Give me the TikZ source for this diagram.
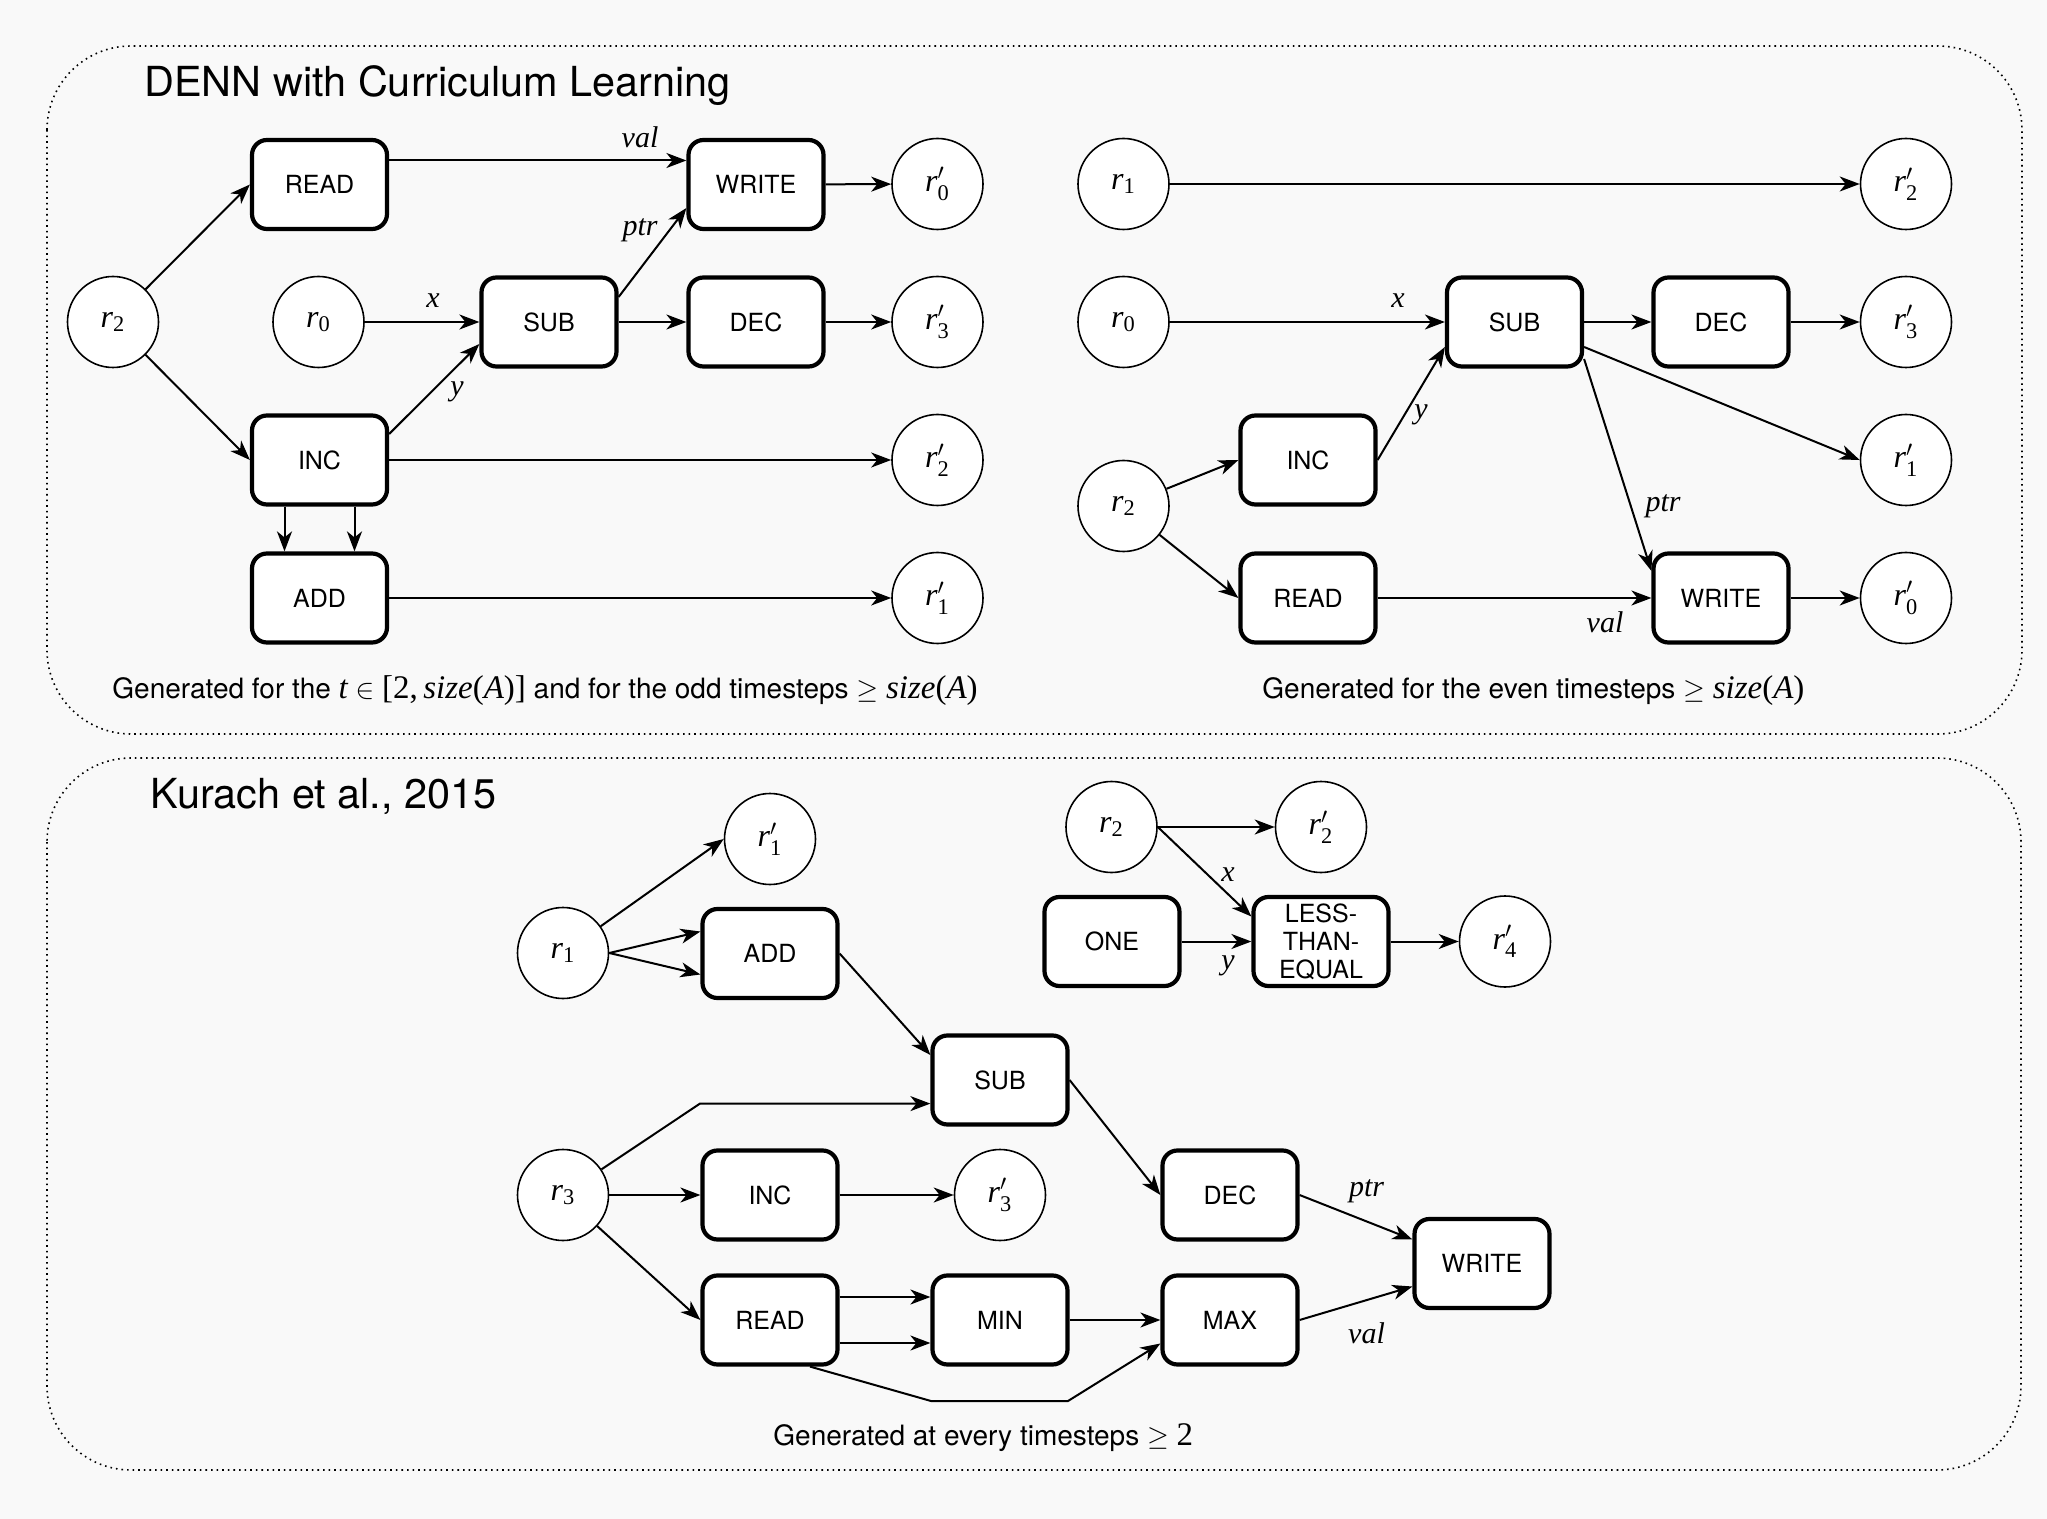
\RequirePackage{fix-cm}
\documentclass[tikz,border=0pt]{standalone}
\usepackage{amsmath}
\usepackage{fontspec}
\setmainfont{TeX Gyre Heros}
\newfontfamily\tms{Liberation Serif}
\usetikzlibrary{arrows.meta,calc}
\definecolor{bgc}{RGB}{249,249,249}
\newcommand{\rg}[1]{$\text{\tms\itshape r}_{\text{\tms #1}}$}
\newcommand{\rgp}[1]{$\text{\tms\itshape r}'_{\text{\tms #1}}$}
\newcommand{\mt}[1]{{\tms\fontsize{16.5}{18}\selectfont #1}}
\begin{document}
\begin{tikzpicture}[x=0.5pt,y=-0.5pt,
  box/.style={draw, line width=2.1pt, rounded corners=7.5pt, fill=white, minimum width=67.5pt, minimum height=44.5pt, inner sep=0pt, font=\fontsize{12.5}{14}\selectfont},
  reg/.style={draw, circle, line width=0.8pt, fill=white, minimum size=45.5pt, inner sep=0pt, font=\fontsize{16}{18}\selectfont},
  arr/.style={-{Stealth[length=10pt,width=7.5pt,inset=3pt]}, line width=1pt},
  lab/.style={inner sep=0pt, font=\tms\itshape\fontsize{15}{17}\selectfont},
  panel/.style={draw, dotted, line width=0.8pt, rounded corners=42pt},
  ttl/.style={anchor=base west, inner sep=0pt, font=\fontsize{20.7}{24}\selectfont},
  captxt/.style={anchor=base west, inner sep=0pt, font=\fontsize{14}{16}\selectfont}]
\fill[bgc] (0,0) rectangle (2047,1519);
\useasboundingbox (0,0) rectangle (2047,1519);
\draw[panel] (47,46) rectangle (2022,734);
\draw[panel] (47,758) rectangle (2021,1470);

% ---------- top left
\node[ttl] (t1) at (144,97) {DENN with Curriculum Learning};
\node[reg] (a-r2) at (113,322) {\rg{2}};
\node[reg] (a-r0) at (318.5,322) {\rg{0}};
\node[box] (a-read) at (319.5,184.5) {READ};
\node[box] (a-inc) at (319.5,460) {INC};
\node[box] (a-add) at (319.5,598) {ADD};
\node[box] (a-sub) at (549,322) {SUB};
\node[box] (a-write) at (756,184.5) {WRITE};
\node[box] (a-dec) at (756,322) {DEC};
\node[reg] (a-o0) at (937.5,184) {\rgp{0}};
\node[reg] (a-o3) at (937.5,322) {\rgp{3}};
\node[reg] (a-o2) at (937.5,460) {\rgp{2}};
\node[reg] (a-o1) at (937.5,598) {\rgp{1}};
\draw[arr] (a-r2) -- (a-read.west);
\draw[arr] (a-r2) -- (a-inc.west);
\draw[arr] ([yshift=12pt]a-read.east) -- ([yshift=12pt]a-write.west);
\draw[arr] ([yshift=12.5pt]a-sub.east) -- ([yshift=-11.75pt]a-write.west);
\draw[arr] (a-r0) -- (a-sub);
\draw[arr] ([yshift=13pt]a-inc.east) -- ([yshift=-11pt]a-sub.west);
\draw[arr] (a-sub) -- (a-dec);
\draw[arr] (a-dec) -- (a-o3);
\draw[arr] (a-write) -- (a-o0);
\draw[arr] (a-inc) -- (a-o2);
\draw[arr] (a-add) -- (a-o1);
\draw[arr] ([xshift=-17.5pt]a-inc.south) -- ([xshift=-17.5pt]a-add.north);
\draw[arr] ([xshift=17.5pt]a-inc.south) -- ([xshift=17.5pt]a-add.north);
\node[lab] (a-lval) at (640,137) {val};
\node[lab] (a-lptr) at (640,230) {ptr};
\node[lab] (a-lx) at (433,301) {x};
\node[lab] (a-ly) at (457,392) {y};
\node[captxt] (c1) at (112,698) {Generated for the \mt{\itshape t} $\in$ \mt{[2,\,\itshape size\upshape(\itshape A\upshape)]} and for the odd timesteps $\geq$ \mt{\itshape size\upshape(\itshape A\upshape)}};

% ---------- top right
\node[reg] (b-r1) at (1123.5,184) {\rg{1}};
\node[reg] (b-o2) at (1906,184) {\rgp{2}};
\node[reg] (b-r0) at (1123.5,322) {\rg{0}};
\node[box] (b-sub) at (1514.5,322) {SUB};
\node[box] (b-dec) at (1721,322) {DEC};
\node[reg] (b-o3) at (1906,322) {\rgp{3}};
\node[box] (b-inc) at (1308,460) {INC};
\node[reg] (b-o1) at (1906,460) {\rgp{1}};
\node[reg] (b-r2) at (1123.5,506) {\rg{2}};
\node[box] (b-read) at (1308,598) {READ};
\node[box] (b-write) at (1721,598) {WRITE};
\node[reg] (b-o0) at (1906,598) {\rgp{0}};
\draw[arr] (b-r1) -- (b-o2);
\draw[arr] (b-r0) -- (b-sub);
\draw[arr] (b-sub) -- (b-dec);
\draw[arr] (b-dec) -- (b-o3);
\draw[arr] ([yshift=-12.5pt]b-sub.east) -- (b-o1.west);
\draw[arr] ([yshift=-18.5pt]b-sub.east) -- ([yshift=13.5pt]b-write.west);
\draw[arr] (b-inc.east) -- ([yshift=-12.5pt]b-sub.west);
\draw[arr] (b-r2) -- (b-inc.west);
\draw[arr] (b-r2) -- (b-read.west);
\draw[arr] (b-read) -- (b-write);
\draw[arr] (b-write) -- (b-o0);
\node[lab] (b-lx) at (1398,301) {x};
\node[lab] (b-ly) at (1421,415) {y};
\node[lab] (b-lptr) at (1663,506) {ptr};
\node[lab] (b-lval) at (1605,622) {val};
\node[captxt] (c2) at (1262,698) {Generated for the even timesteps $\geq$ \mt{\itshape size\upshape(\itshape A\upshape)}};

% ---------- bottom
\node[ttl] (t2) at (150,808) {Kurach et al., 2015};
\node[reg] (c-o1) at (770,839) {\rgp{1}};
\node[reg] (c-r1) at (563,953) {\rg{1}};
\node[box] (c-add) at (770,953.5) {ADD};
\node[box] (c-sub) at (1000,1080) {SUB};
\node[reg] (c-r3) at (563,1195) {\rg{3}};
\node[box] (c-inc) at (770,1195) {INC};
\node[reg] (c-o3) at (1000,1195) {\rgp{3}};
\node[box] (c-read) at (770,1320) {READ};
\node[box] (c-min) at (1000,1320) {MIN};
\node[box] (c-dec) at (1230,1195) {DEC};
\node[box] (c-max) at (1230,1320) {MAX};
\node[box] (c-write) at (1482,1263.5) {WRITE};
\node[reg] (c-r2) at (1111.5,827) {\rg{2}};
\node[reg] (c-o2) at (1321,827) {\rgp{2}};
\node[box] (c-one) at (1112,941.5) {ONE};
\node[box, align=center, font=\fontsize{12.5}{14}\selectfont] (c-lte) at (1321,941.5) {LESS-\\THAN-\\EQUAL};
\node[reg] (c-o4) at (1505,941.5) {\rgp{4}};
\coordinate (c-b1) at (700,1103.6);
\coordinate (c-b2) at (931,1401);
\coordinate (c-b3) at (1068,1401);
\draw[arr] (c-r1) -- (c-o1.west);
\draw[arr] (c-r1.east) -- ([yshift=11pt]c-add.west);
\draw[arr] (c-r1.east) -- ([yshift=-10.5pt]c-add.west);
\draw[arr] (c-add.east) -- ([yshift=12.5pt]c-sub.west);
\draw[arr] (c-r3) -- (c-b1) -- (c-b1 -| c-sub.west);
\draw[arr] (c-r3) -- (c-inc);
\draw[arr] (c-inc) -- (c-o3);
\draw[arr] (c-r3) -- (c-read.west);
\draw[arr] ([yshift=11.5pt]c-read.east) -- ([yshift=11.5pt]c-min.west);
\draw[arr] ([yshift=-11.5pt]c-read.east) -- ([yshift=-11.5pt]c-min.west);
\draw[arr] ([xshift=20pt]c-read.south) -- (c-b2) -- (c-b3) -- ([yshift=-11.75pt]c-max.west);
\draw[arr] (c-min) -- (c-max);
\draw[arr] (c-sub.east) -- (c-dec.west);
\draw[arr] (c-dec.east) -- ([yshift=12pt]c-write.west);
\draw[arr] (c-max.east) -- ([yshift=-11.5pt]c-write.west);
\draw[arr] (c-r2) -- (c-o2);
\draw[arr] (c-r2.east) -- ([yshift=12.5pt]c-lte.west);
\draw[arr] (c-one) -- (c-lte);
\draw[arr] (c-lte) -- (c-o4);
\node[lab] (c-lx) at (1228,875) {x};
\node[lab] (c-ly) at (1228,966) {y};
\node[lab] (c-lptr) at (1366.5,1191) {ptr};
\node[lab] (c-lval) at (1366.5,1333.6) {val};
\node[captxt] (c3) at (773,1445) {Generated at every timesteps $\geq$ \mt{2}};
\end{tikzpicture}
\end{document}
